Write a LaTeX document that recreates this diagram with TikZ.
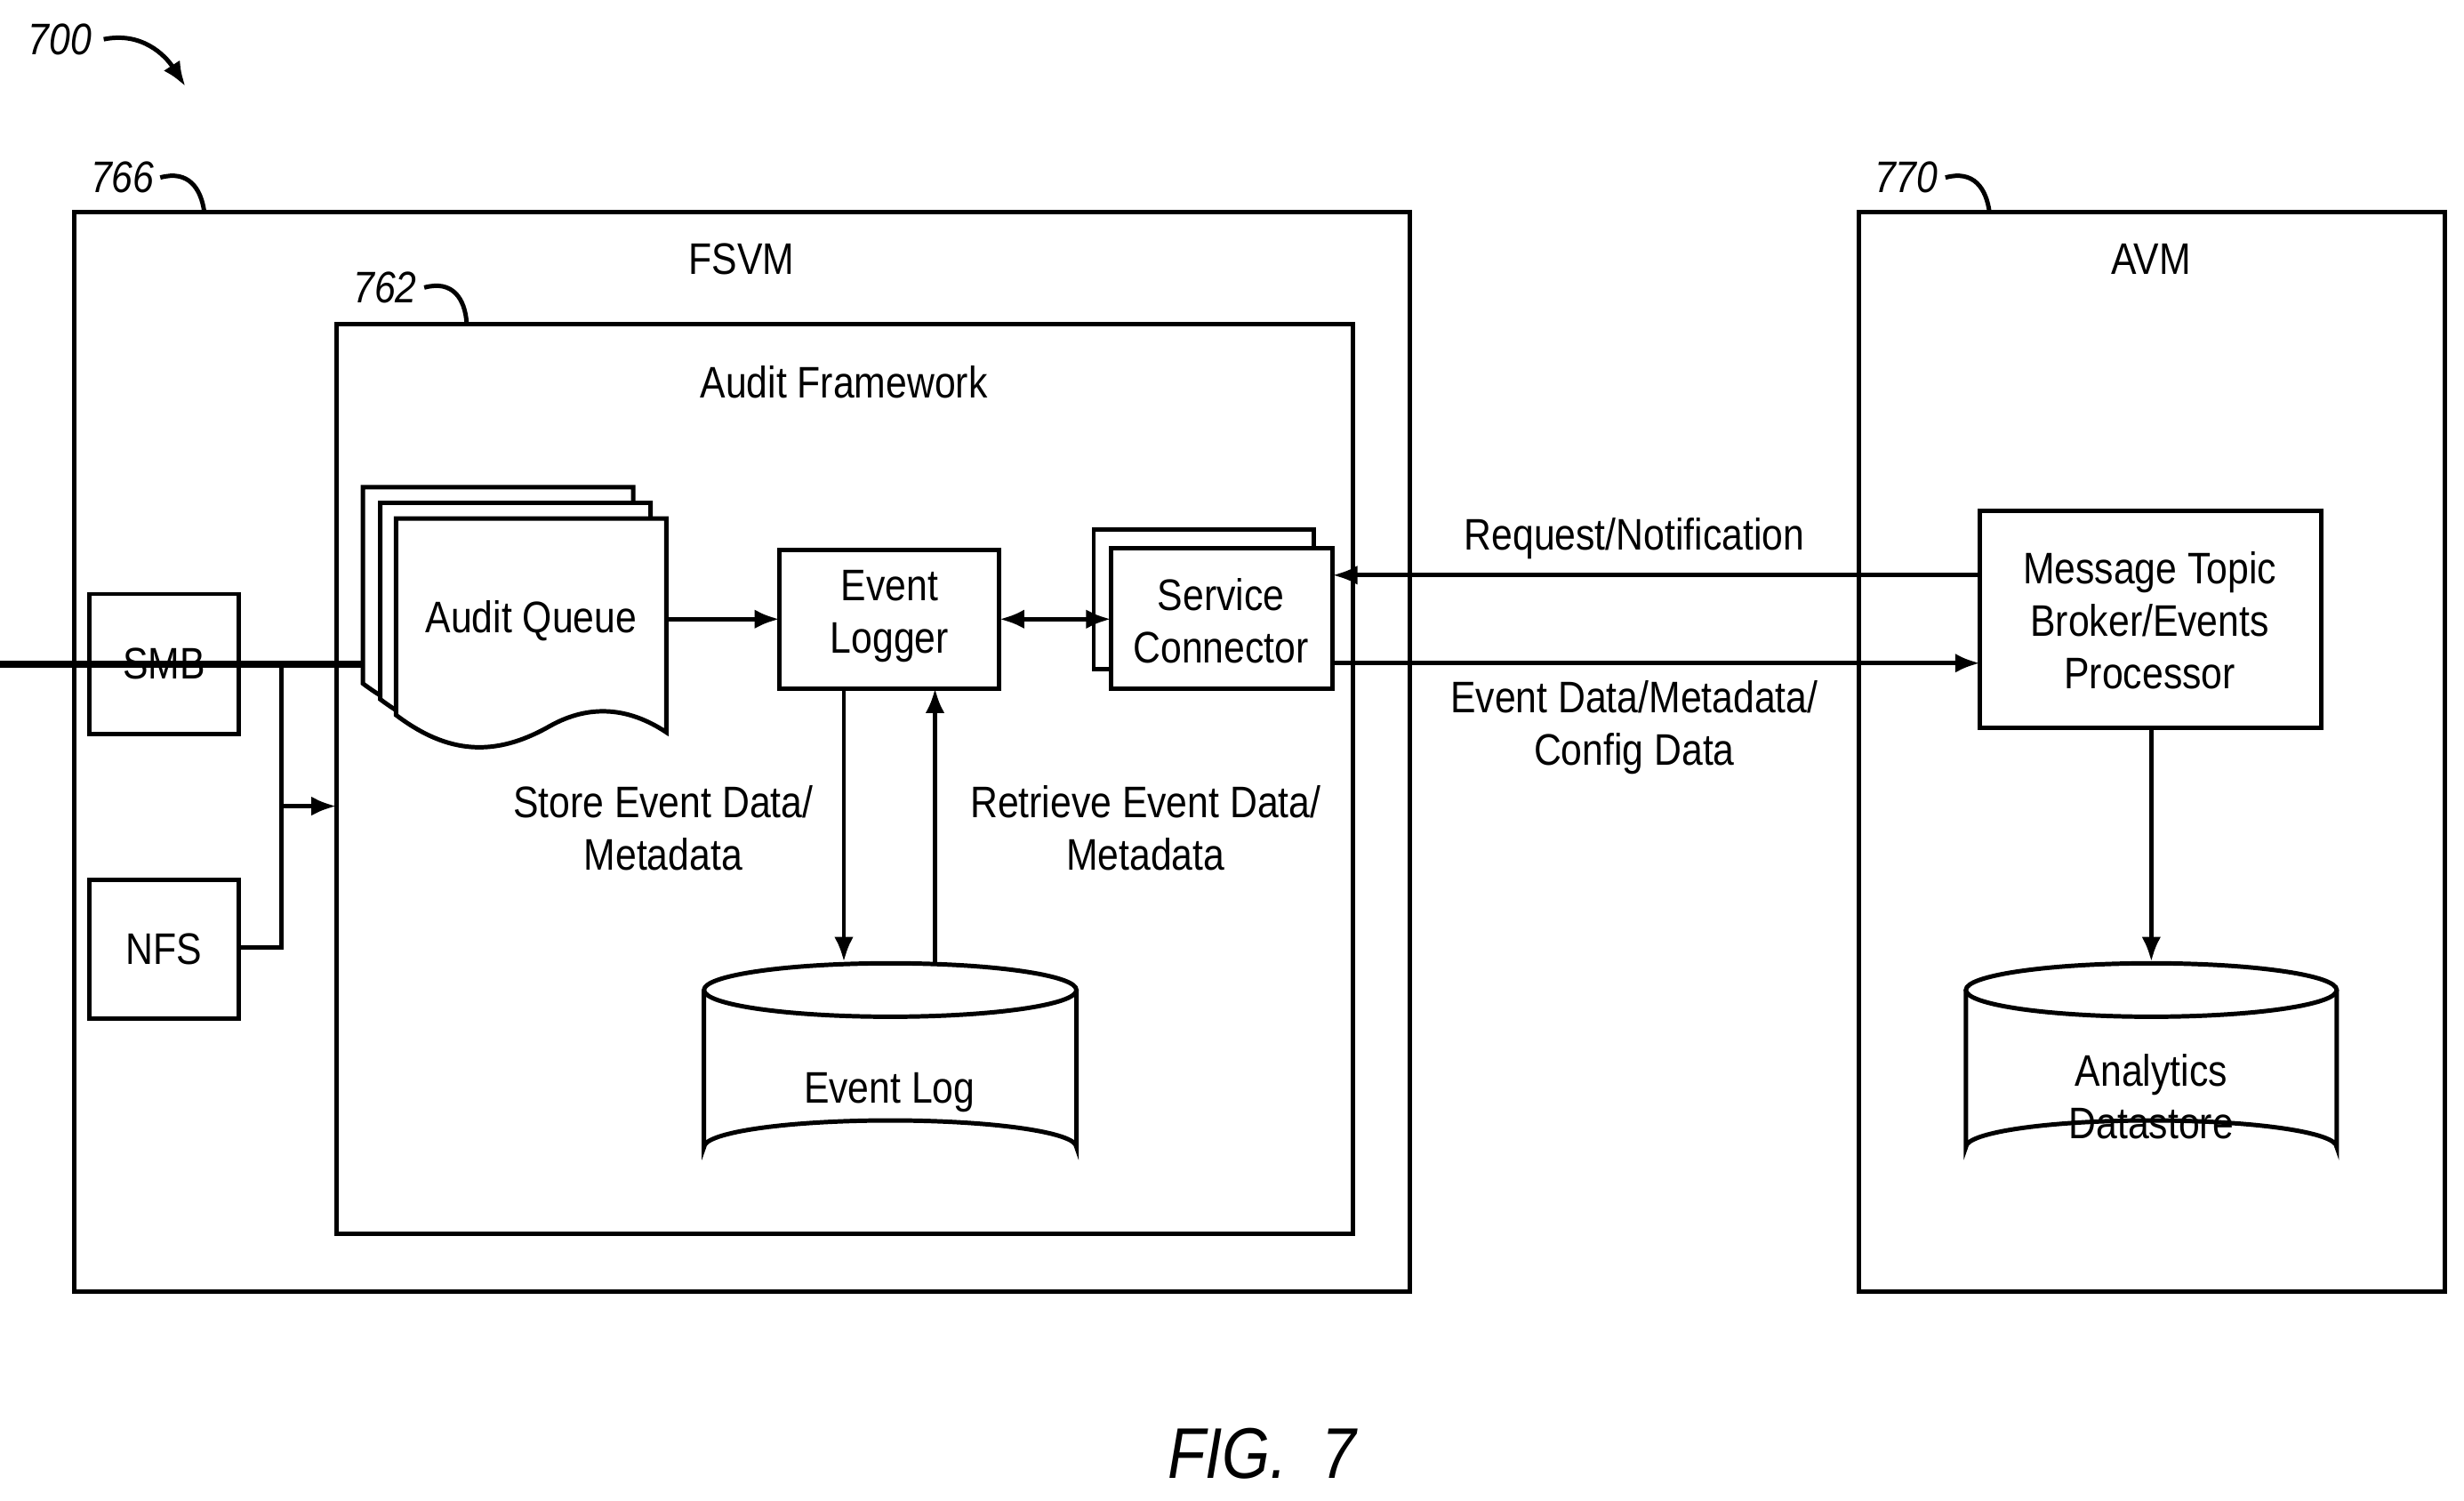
\documentclass[tikz,border=0pt]{standalone}
\usepackage{fontspec}
\setmainfont[FakeStretch=0.86]{Liberation Sans}
\usetikzlibrary{arrows.meta}
\begin{document}
\begin{tikzpicture}[x=0.02cm,y=-0.02cm,
  line width=1.6pt,
  box/.style={draw,line width=1.6pt},
  lbl/.style={font=\fontsize{16}{19}\selectfont,align=center,inner sep=0},
  num/.style={font=\fontsize{16}{19}\selectfont\itshape,inner sep=0},
  arr/.style={-{Latex[length=9pt,width=7pt]}},
  darr/.style={{Latex[length=9pt,width=7pt]}-{Latex[length=9pt,width=7pt]}}]
\useasboundingbox (0,0) rectangle (1568,955);
% outer boxes
\draw[box] (47,135) rectangle (897,822);
\node[lbl] (fsvm) at (472,165) {FSVM};
\draw[box] (214,206) rectangle (861,785);
\node[lbl] (af) at (537,243) {Audit Framework};
\draw[box] (1183,135) rectangle (1556,822);
\node[lbl] (avm) at (1369,165) {AVM};
% reference numerals
\node[num] (n700) at (38,25) {700};
\draw[arr] (66,25) .. controls (90,20) and (105,35) .. (118,55);
\node[num] (n766) at (78,113) {766};
\draw (102,113) .. controls (120,108) and (128,120) .. (130,135);
\node[num] (n762) at (245,183) {762};
\draw (270,183) .. controls (288,178) and (296,190) .. (297,206);
\node[num] (n770) at (1213,113) {770};
\draw (1238,113) .. controls (1256,108) and (1264,120) .. (1266,135);
% SMB NFS
\node[box,minimum width=95\pgflinewidth,lbl,draw] (smb) at (104.5,422.5) {};
\draw[box] (57,378) rectangle (152,467);
\node[lbl] at (104.5,422.5) {SMB};
\draw[box] (57,560) rectangle (152,648);
\node[lbl] (nfs) at (104.5,604) {NFS};
\coordinate (j1) at (152,423);
\coordinate (j2) at (179,423);
\coordinate (j3) at (179,603);
\coordinate (j4) at (152,603);
\coordinate (jm) at (179,513);
\coordinate (afl) at (214,513);
\draw (j1) -- (j2) -- (j3) -- (j4);
\draw[arr] (jm) -- (afl);
% audit queue
\foreach \dx/\dy in {-21/-20,-10/-10,0/0}{
\draw[fill=white,shift={(\dx,\dy)}] (252,330) -- (424,330) -- (424,466)
  .. controls (400,450) and (375,448) .. (350,462)
  .. controls (315,482) and (285,480) .. (252,455) -- cycle;}
\node[lbl] (aq) at (338,395) {Audit Queue};
% event logger
\draw[box] (496,350) rectangle (636,438);
\node[lbl] (el) at (566,392) {Event\\Logger};
\coordinate (aqr) at (424,394);
\coordinate (ell) at (496,394);
\draw[arr] (aqr) -- (ell);
% service connector
\draw[box,fill=white] (696,337) rectangle (836,426);
\draw[box,fill=white] (707,349) rectangle (848,438);
\node[lbl] (sc) at (777,395) {Service\\Connector};
\coordinate (elr) at (636,394);
\coordinate (scl) at (707,394);
\draw[darr] (elr) -- (scl);
% message topic
\draw[box] (1260,325) rectangle (1477,463);
\node[lbl] (mt) at (1368,395) {Message Topic\\Broker/Events\\Processor};
\coordinate (mt1) at (1260,366); \coordinate (sc1) at (848,366);
\coordinate (mt2) at (1260,422); \coordinate (sc2) at (848,422);
\draw[arr] (mt1) -- (sc1);
\draw[arr] (sc2) -- (mt2);
\node[lbl] at (1040,343) {Request/Notification};
\node[lbl] at (1040,463) {Event Data/Metadata/\\Config Data};
% cylinders
\foreach \l/\r in {448/685,1251/1487}{
\draw[fill=white] (\l,630) -- (\l,730) arc[start angle=180,end angle=360,x radius={(\r-\l)/2},y radius=17] -- (\r,630);
\draw[fill=white] ({(\l+\r)/2},630) ellipse[x radius={(\r-\l)/2},y radius=17];}
\node[lbl] (elog) at (566,695) {Event Log};
\node[lbl] (ads) at (1369,698) {Analytics\\Datastore};
\coordinate (mtb) at (1369,463); \coordinate (adt) at (1369,612);
\draw[arr] (mtb) -- (adt);
\coordinate (a1) at (537,438); \coordinate (a2) at (537,612);
\coordinate (b1) at (595,612); \coordinate (b2) at (595,438);
\draw[arr] (a1) -- (a2);
\draw[arr] (b1) -- (b2);
\node[lbl] at (422,527) {Store Event Data/\\Metadata};
\node[lbl] at (729,527) {Retrieve Event Data/\\Metadata};
\node[font=\fontsize{26}{30}\selectfont\itshape] (fig) at (803,925) {FIG.\ \ 7};
\end{tikzpicture}
\end{document}
